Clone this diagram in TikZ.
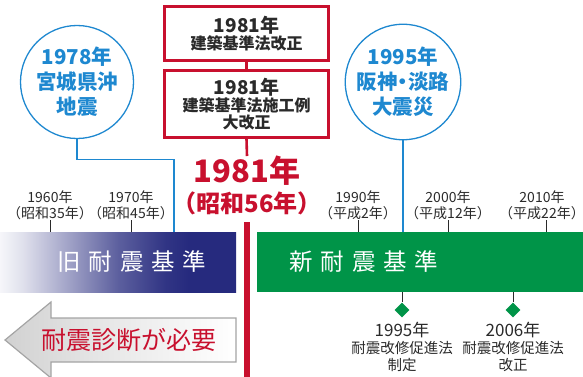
\documentclass[tikz,border=0pt]{standalone}
\usepackage{fontspec}
\setmainfont{Noto Sans CJK JP}
\usetikzlibrary{shapes.geometric}
\definecolor{kred}{HTML}{C8102E}
\definecolor{kblue}{HTML}{1E88D0}
\definecolor{knavy}{HTML}{262A7E}
\definecolor{kgreen}{HTML}{009448}
\definecolor{kdark}{HTML}{2A2A2A}
\definecolor{kgrey}{HTML}{A4A4A4}
\pgfdeclarehorizontalshading{oldgrad}{100bp}{color(0bp)=(knavy!4); color(25bp)=(knavy!4); color(30bp)=(knavy!15); color(40bp)=(knavy!45); color(50bp)=(knavy!75); color(60bp)=(knavy!95); color(65bp)=(knavy); color(100bp)=(knavy)}
\pgfdeclarehorizontalshading{arrowgrad}{100bp}{color(0bp)=(black!18); color(25bp)=(black!18); color(45bp)=(black!10); color(75bp)=(white); color(100bp)=(white)}
\tikzset{
  redbox/.style={draw=kred, line width=2.6pt, minimum width=164pt, align=center, text=kdark, inner sep=0pt, font=\bfseries\fontsize{16}{18}\selectfont},
  quake/.style={circle, draw=kblue, line width=1.3pt, minimum size=113pt, align=center, text=kblue, font=\bfseries\fontsize{20.5}{25}\selectfont, inner sep=0pt},
  blueline/.style={draw=kblue, line width=1.3pt},
  redline/.style={draw=kred, line width=2.6pt},
  yearlab/.style={anchor=south, align=center, text=kdark, font=\fontsize{14}{16}\selectfont, inner sep=0pt},
  tick/.style={draw=kdark, line width=0.8pt},
  bartext/.style={text=white, font=\fontsize{23.5}{23.5}\selectfont\addfontfeature{LetterSpace=33}},
  lawmark/.style={diamond, fill=kgreen, minimum size=15pt, inner sep=0pt},
  lawlab/.style={anchor=north, align=center, text=kdark, inner sep=0pt, font=\fontsize{14.5}{17}\selectfont},
}
\begin{document}
\begin{tikzpicture}[x=1pt,y=-1pt]
\useasboundingbox (0,0) rectangle (583,377);
% red boxes
\node[redbox, minimum height=54pt] (box1) at (246.5,33.5) {{\fontsize{19}{20}\selectfont 1981年}\\[-1pt]建築基準法改正};
\node[redbox, minimum height=67pt] (box2) at (246.5,104) {{\fontsize{19}{20}\selectfont 1981年}\\[-1pt]建築基準法施工例\\[-1pt]大改正};
\draw[redline] (box1.south) -- (box2.north);
% big year
\node[text=kred, font=\bfseries\fontsize{31}{31}\selectfont, inner sep=0pt] (yr1) at (247,171) {1981年};
\node[text=kred, font=\bfseries\fontsize{24}{24}\selectfont, inner sep=0pt] (yr2) at (247,203) {（昭和56年）};
\draw[redline] (box2.south) -- (yr1.north);
\coordinate (redend) at (247,377);
\coordinate (redtop) at (247,222);
\draw[draw=kred, line width=6pt] (redtop) -- (redend);
% bars
\node[minimum width=236pt, minimum height=60pt, inner sep=0pt, shading=oldgrad] (oldbar) at (118,262) {};
\node[bartext] (oldtext) at (132,262) {旧耐震基準};
\node[minimum width=326pt, minimum height=60pt, inner sep=0pt, fill=kgreen] (newbar) at (420,262) {};
\node[bartext] (newtext) at (364,262) {新耐震基準};
% quake circles
\node[quake] (c1) at (77,82) {1978年\\宮城県沖\\地震};
\node[quake] (c2) at (403,82) {1995年\\阪神\kern-5pt・\kern-5pt淡路\\大震災};
\coordinate (c1end) at (174,232);
\draw[blueline] (c1.south) -- ++(0,20) -| (c1end);
\draw[blueline] (c2.south) -- (c2.south |- newbar.north);
% year labels
\node[yearlab] (y60) at (50,220) {1960年\\（昭和35年）};
\node[yearlab] (y70) at (131,220) {1970年\\（昭和45年）};
\node[yearlab] (y90) at (358,220) {1990年\\（平成2年）};
\node[yearlab] (y00) at (448,220) {2000年\\（平成12年）};
\node[yearlab] (y10) at (542,220) {2010年\\（平成22年）};
\coordinate (t10) at (546,220);
\foreach \n in {y60,y70} \draw[tick] (\n.south) -- (\n.south |- oldbar.north);
\foreach \n in {y90,y00} \draw[tick] (\n.south) -- (\n.south |- newbar.north);
\draw[tick] (t10) -- (t10 |- newbar.north);
% law marks
\node[lawmark] (d1) at (402,310) {};
\node[lawmark] (d2) at (513,310) {};
\draw[tick] (d1 |- newbar.south) -- (d1);
\draw[tick] (d2 |- newbar.south) -- (d2);
\node[lawlab] (l1) at (402,322) {{\fontsize{17}{18}\selectfont 1995年}\\耐震改修促進法\\制定};
\node[lawlab] (l2) at (513,322) {{\fontsize{17}{18}\selectfont 2006年}\\耐震改修促進法\\改正};
% arrow
\path[shading=arrowgrad, draw=kgrey, line width=1.2pt] (5,340) -- (51,302) -- (51,318) -- (236,318) -- (236,362) -- (51,362) -- (51,378) -- cycle;
\node[text=kred, font=\fontsize{25}{25}\selectfont, inner sep=0pt] (need) at (129,340) {耐震診断が必要};
\end{tikzpicture}
\end{document}
